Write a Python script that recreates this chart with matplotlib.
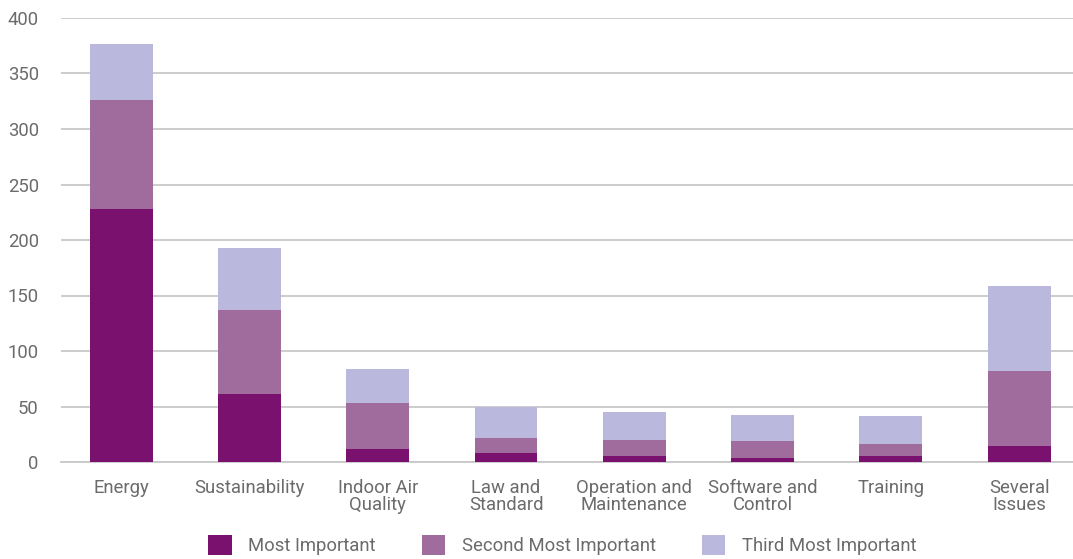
import matplotlib.pyplot as plt
import numpy as np

categories = ['Energy', 'Sustainability', 'Indoor Air\nQuality', 'Law and\nStandard',
              'Operation and\nMaintenance', 'Software and\nControl', 'Training', 'Several\nIssues']
most = [228, 61, 12, 8, 5, 4, 5, 14]
second = [98, 76, 41, 14, 15, 15, 11, 68]
third = [51, 56, 31, 28, 25, 23, 25, 77]
series_names = ['Most Important', 'Second Most Important', 'Third Most Important']
colors = ['#7B116F', '#A06B9D', '#BAB8DD']

plt.rcParams['font.family'] = ['Roboto', 'DejaVu Sans']
text_color = '#6b6b6b'

fig = plt.figure(figsize=(10.73, 5.59), dpi=100)
ax = fig.add_axes([61 / 1073, (559 - 462) / 559, 1 - 61 / 1073, 444 / 559])

x = np.arange(len(categories))
bottom = np.zeros(len(categories))
for vals, name, c in zip([most, second, third], series_names, colors):
    ax.bar(x, vals, 0.49, bottom=bottom, color=c, label=name, zorder=3)
    bottom += np.array(vals)

ax.set_ylim(0, 400)
ax.set_xlim(-0.47, 7.42)
ax.set_yticks(range(0, 401, 50))
ax.set_xticks(x)
ax.set_xticklabels(categories, linespacing=0.95)
ax.grid(axis='y', color='#c8c8c8', linewidth=1.3, zorder=0)
for s in ['top', 'right', 'left']:
    ax.spines[s].set_visible(False)
ax.spines['bottom'].set_color('#c8c8c8')
ax.spines['bottom'].set_linewidth(1.3)
ax.tick_params(axis='both', length=0, labelsize=13.3, colors=text_color)
ax.tick_params(axis='y', pad=16)
ax.tick_params(axis='x', pad=12)

fig.legend(loc='upper center', bbox_to_anchor=(0.524, 0.066), ncol=3, frameon=False,
           fontsize=13.3, labelcolor=text_color, handlelength=1.25, handleheight=1.25,
           columnspacing=2.5, handletextpad=0.9, borderpad=0.2)

fig.savefig('out.png', dpi=100)
